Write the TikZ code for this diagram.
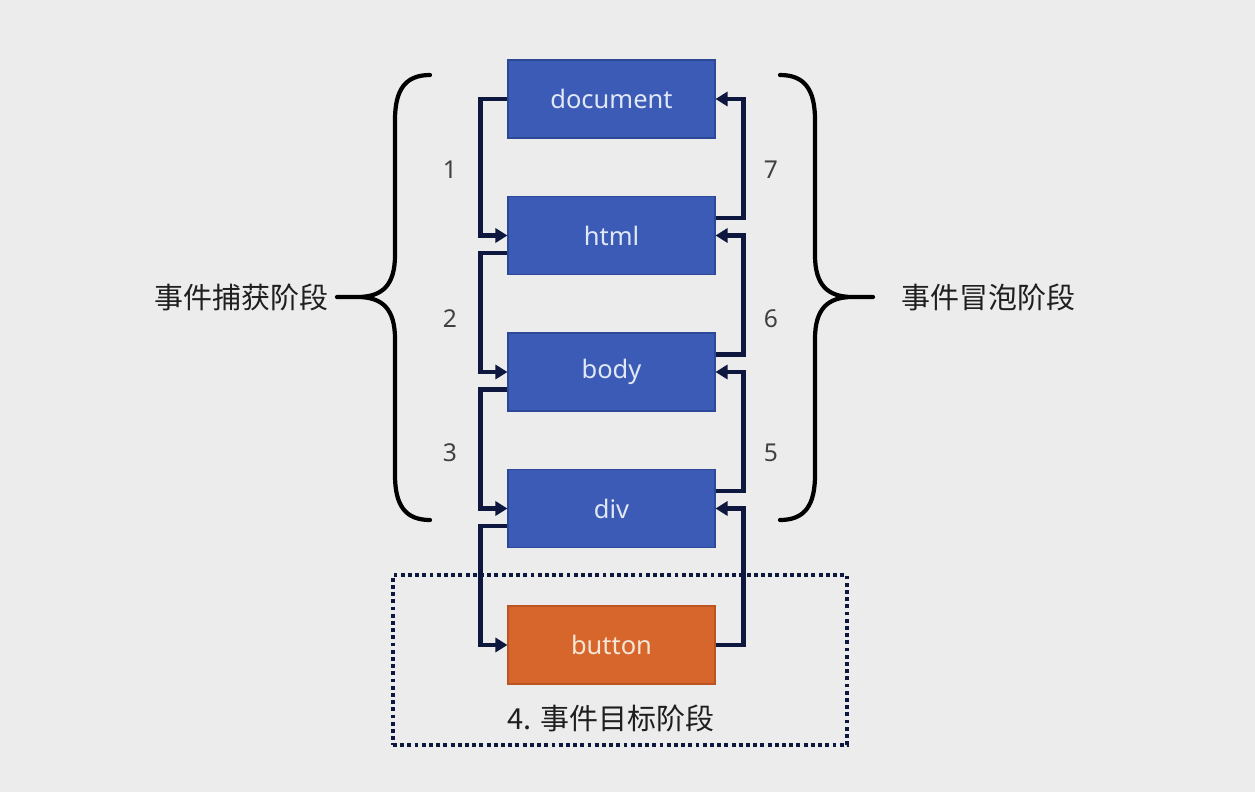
\documentclass[tikz,border=0pt]{standalone}
\usepackage{fontspec}
\setmainfont{Noto Sans}
\newfontfamily\cjk{Noto Sans CJK SC}
\usetikzlibrary{shapes, arrows.meta, positioning}
\definecolor{boxblue}{RGB}{60,91,182}
\definecolor{boxedge}{RGB}{44,72,150}
\definecolor{btnorange}{RGB}{214,102,44}
\definecolor{btnedge}{RGB}{188,84,34}
\definecolor{flowline}{RGB}{14,24,62}
\definecolor{bggray}{RGB}{236,236,236}
\definecolor{numgray}{RGB}{64,64,64}
\tikzstyle{block} = [draw=boxedge, line width=0.6pt, fill=boxblue, rectangle, minimum width=4.14cm, minimum height=1.56cm, text={rgb,255:red,225;green,232;blue,245}, font=\fontsize{14.5}{17}\selectfont]
\tikzstyle{targetblock} = [block, draw=btnedge, fill=btnorange, text={rgb,255:red,246;green,230;blue,214}]
\tikzstyle{flow} = [draw=flowline, line width=2.8pt, -{Triangle[length=0.24cm,width=0.28cm]}]
\tikzstyle{num} = [text=numgray, font=\fontsize{14}{16}\selectfont]
\tikzstyle{phase} = [text=black!88, font=\cjk\fontsize{16.5}{19}\selectfont]
\tikzstyle{bracecurve} = [draw=black, line width=2.4pt, line join=round, line cap=round]

\begin{document}
\begin{tikzpicture}[auto,>=latex]
  \fill[bggray] (0,0) rectangle (25.1,-15.84);
  \useasboundingbox (0,0) rectangle (25.1,-15.84);
  \node[draw=flowline, line width=2pt, dash pattern=on 2.2pt off 1.9pt, minimum width=9.08cm, minimum height=3.4cm] (targetzone) at (12.4,-13.2) {};
  \node[phase] (targetlabel) at (12.22,-14.36) {4. 事件目标阶段};
  \node[block] (document) at (12.23,-1.98) {document};
  \node[block, below of=document, node distance=2.73cm] (html) {html};
  \node[block, below of=html, node distance=2.73cm] (body) {body};
  \node[block, below of=body, node distance=2.73cm] (div) {div};
  \node[targetblock, below of=div, node distance=2.73cm] (button) {button};
  \draw[flow] (document.west) -- ++(-0.54,0) |- (html.west);
  \draw[flow] ([yshift=-0.35cm]html.west) -- ++(-0.54,0) |- (body.west);
  \draw[flow] ([yshift=-0.35cm]body.west) -- ++(-0.54,0) |- (div.west);
  \draw[flow] ([yshift=-0.35cm]div.west) -- ++(-0.54,0) |- (button.west);
  \draw[flow] (button.east) -- ++(0.56,0) |- (div.east);
  \draw[flow] ([yshift=0.35cm]div.east) -- ++(0.56,0) |- (body.east);
  \draw[flow] ([yshift=0.35cm]body.east) -- ++(0.56,0) |- (html.east);
  \draw[flow] ([yshift=0.35cm]html.east) -- ++(0.56,0) |- (document.east);
  \node[num] (n1) at (9.0,-3.4) {1};
  \node[num] (n2) at (9.0,-6.38) {2};
  \node[num] (n3) at (9.0,-9.06) {3};
  \node[num] (n7) at (15.42,-3.4) {7};
  \node[num] (n6) at (15.42,-6.38) {6};
  \node[num] (n5) at (15.42,-9.06) {5};
  \coordinate (ltip) at (6.74,-5.94);
  \coordinate (rtip) at (17.46,-5.94);
  \draw[bracecurve] (8.6,-1.5) .. controls (8.1,-1.5) and (7.9,-1.8) .. (7.9,-2.4) -- (7.9,-5.1) .. controls (7.9,-5.7) and (7.65,-5.94) .. (7.15,-5.94) -- (ltip) -- (7.15,-5.94) .. controls (7.65,-5.94) and (7.9,-6.18) .. (7.9,-6.78) -- (7.9,-9.5) .. controls (7.9,-10.1) and (8.1,-10.4) .. (8.6,-10.4);
  \draw[bracecurve] (15.6,-1.5) .. controls (16.1,-1.5) and (16.3,-1.8) .. (16.3,-2.4) -- (16.3,-5.1) .. controls (16.3,-5.7) and (16.55,-5.94) .. (17.05,-5.94) -- (rtip) -- (17.05,-5.94) .. controls (16.55,-5.94) and (16.3,-6.18) .. (16.3,-6.78) -- (16.3,-9.5) .. controls (16.3,-10.1) and (16.1,-10.4) .. (15.6,-10.4);
  \node[phase, left=0.05cm of ltip] (capture) {事件捕获阶段};
  \node[phase, right=0.45cm of rtip] (bubble) {事件冒泡阶段};
\end{tikzpicture}
\end{document}
